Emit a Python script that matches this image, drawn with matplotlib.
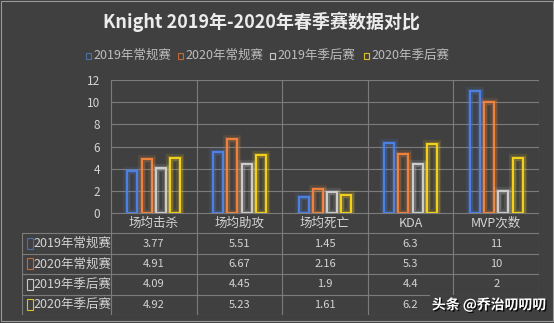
import matplotlib
matplotlib.use("Agg")
import matplotlib.pyplot as plt
import matplotlib.patheffects as pe
from matplotlib.patches import Rectangle

plt.rcParams["font.family"] = ["Noto Sans CJK SC", "DejaVu Sans"]

categories = ["场均击杀", "场均助攻", "场均死亡", "KDA", "MVP次数"]
series_names = ["2019年常规赛", "2020年常规赛", "2019年季后赛", "2020年季后赛"]
reg_2019 = [3.77, 5.51, 1.45, 6.3, 11]
reg_2020 = [4.91, 6.67, 2.16, 5.3, 10]
po_2019 = [4.09, 4.45, 1.9, 4.4, 2]
po_2020 = [4.92, 5.23, 1.61, 6.2, 5]
yticks = [0, 2, 4, 6, 8, 10, 12]

BG = "#404040"
GRID = "#7c7c7c"
TXT = "#d4d4d4"
COLORS = ["#4d82e6", "#f0843c", "#cfcfcf", "#f5d21a"]
LEGEND_COLORS = ["#4a6fa8", "#c56a30", "#c8c8c8", "#e0c020"]

W, H = 554, 323
fig = plt.figure(figsize=(W / 100, H / 100), dpi=100, facecolor=BG)


def px(x0, y0, x1, y1):
    return [x0 / W, 1 - y1 / H, (x1 - x0) / W, (y1 - y0) / H]


# frame around the whole picture
fig.patches.append(Rectangle((0.5 / W, 2.5 / H), 1 - 1.5 / W, 1 - 3 / H,
                             transform=fig.transFigure, fill=False,
                             edgecolor="#9a9a9a", linewidth=0.8))

ax = fig.add_axes(px(111, 80, 539, 213))
ax.set_facecolor(BG)
ax.set_xlim(0, len(categories))
ax.set_ylim(0, 12)
ax.set_yticks(yticks)
ax.set_yticklabels([str(t) for t in yticks], color=TXT, fontsize=8.5)
ax.set_xticks([])
ax.tick_params(axis="y", length=0, pad=8)
for s in ax.spines.values():
    s.set_visible(False)
for t in yticks[1:]:
    ax.axhline(t, color=GRID, linewidth=0.8, zorder=1)

step, bw = 0.167, 0.117
all_series = [reg_2019, reg_2020, po_2019, po_2020]
for k, (vals, c) in enumerate(zip(all_series, COLORS)):
    xs = [i + 0.5 + (k - 1.5) * step for i in range(len(categories))]
    bars = ax.bar(xs, vals, width=bw, fill=False, edgecolor=c, linewidth=1.4, zorder=3)
    for b in bars:
        b.set_path_effects([
            pe.Stroke(linewidth=6, foreground=c, alpha=0.12),
            pe.Stroke(linewidth=3.5, foreground=c, alpha=0.25),
            pe.Normal(),
        ])

# legend row
leg_x = [86, 178, 270, 364]
for name, c, x in zip(series_names, LEGEND_COLORS, leg_x):
    fig.patches.append(Rectangle((x / W, 1 - 59 / H), 5 / W, 6 / H,
                                 transform=fig.transFigure, fill=False,
                                 edgecolor=c, linewidth=0.8))
    fig.text((x + 7) / W, 1 - 55 / H, name, color="#bdbdbd", fontsize=9,
             va="center", ha="left")

fig.text(261 / W, 1 - 22 / H, "Knight 2019年-2020年春季赛数据对比",
         color="#ececec", fontsize=13, fontweight="bold", ha="center", va="center")

# data table under the plot
tab = fig.add_axes(px(22, 80, 539, 315))
tab.set_xlim(-1.04, len(categories))
tab.set_ylim(0, 1)
tab.axis("off")
tab.patch.set_alpha(0)

top_px, base_px, bot_px = 80, 213, 315
row_h = (bot_px - base_px) / 5


def yf(p):
    return 1 - (p - top_px) / (bot_px - top_px)


lk = dict(color=GRID, linewidth=0.8)
for i in range(len(categories) + 1):
    tab.plot([i, i], [yf(top_px), yf(bot_px)], **lk)
tab.plot([-1.04, -1.04], [yf(base_px + row_h), yf(bot_px)], **lk)
tab.plot([0, len(categories)], [yf(base_px), yf(base_px)], **lk)
for r in range(1, 6):
    y = base_px + r * row_h
    tab.plot([-1.04, len(categories)], [yf(y), yf(y)], **lk)

for i, cat in enumerate(categories):
    tab.text(i + 0.5, yf(base_px + row_h / 2), cat, color=TXT, fontsize=9,
             ha="center", va="center")

for r, (name, c, vals) in enumerate(zip(series_names, LEGEND_COLORS, all_series)):
    yc = yf(base_px + (r + 1.5) * row_h)
    tab.add_patch(Rectangle((-0.98, yc - 0.022), 0.07, 0.046, fill=False,
                            edgecolor=c, linewidth=0.8))
    tab.text(-0.9, yc, name, color=TXT, fontsize=9, ha="left", va="center")
    for i, v in enumerate(vals):
        tab.text(i + 0.5, yc, f"{v:g}", color=TXT, fontsize=8, ha="center", va="center")

# site watermark, drawn over the last table row
fig.text(546 / W, 1 - 305 / H, "头条 @乔治叨叨叨", color="white", fontsize=10,
         fontweight="bold", ha="right", va="center", zorder=10,
         bbox=dict(boxstyle="square,pad=0.15", facecolor=BG, edgecolor="none"),
         path_effects=[pe.withSimplePatchShadow(offset=(1, -1), shadow_rgbFace="black", alpha=0.8)])

fig.savefig("out.png", dpi=100, facecolor=BG)
